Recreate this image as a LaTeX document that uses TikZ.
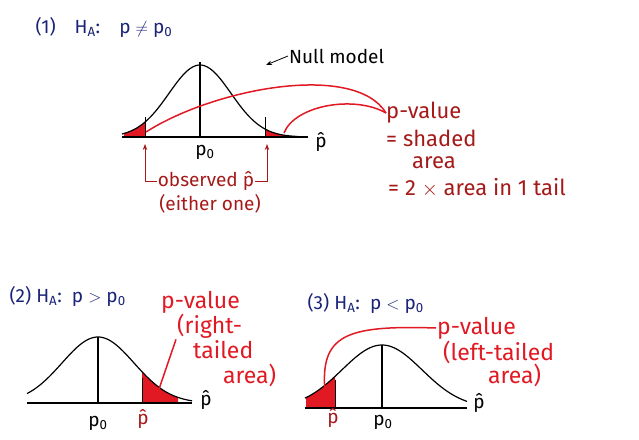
\documentclass[tikz,border=0pt]{standalone}
\usepackage{fontspec}
\setmainfont{Fira Sans}
\usetikzlibrary{arrows.meta,positioning}
\definecolor{inkblue}{RGB}{25,35,120}
\definecolor{inkred}{RGB}{225,25,35}
\definecolor{darkred}{RGB}{165,25,25}
\newcommand\phat{p\char"0302\relax}

\begin{document}
\begin{tikzpicture}[x=1pt,y=-1pt,>={Stealth[length=6pt]},
  curve/.style={line width=1.2pt,black},
  axisline/.style={line width=1.1pt,black},
  cut/.style={line width=0.8pt,black},
  tail/.style={fill=inkred,draw=none},
  ptr/.style={line width=1.5pt,inkred},
  title/.style={inkblue,font=\fontsize{19}{22}\selectfont,anchor=west},
  lab/.style={font=\fontsize{19}{22}\selectfont,inner sep=1pt},
  note/.style={inkred,font=\fontsize{23}{26}\selectfont,anchor=west,inner sep=1pt},
  defn/.style={darkred,font=\fontsize{22}{24}\selectfont,anchor=west,inner sep=0pt}]
\useasboundingbox (0,0) rectangle (639,439);

% (1) two-sided
\node[title] (t1) at (32,27) {(1)\quad H\textsubscript{A}:\quad p $\neq$ p\textsubscript{0}};
\fill[tail] plot[domain=124:145,samples=20] (\x,{137-72*exp(-((\x-200)/31)^2/2)}) -- (145,137) -- (124,137) -- cycle;
\fill[tail] plot[domain=265:295,samples=20] (\x,{137-72*exp(-((\x-200)/31)^2/2)}) -- (295,137) -- (265,137) -- cycle;
\draw[curve] plot[domain=122:298,samples=80] (\x,{137-72*exp(-((\x-200)/31)^2/2)});
\draw[axisline] (122,137) -- (308,137);
\draw[curve] (200,62) -- (200,137);
\draw[cut] (145,117) -- (145,137);
\draw[cut] (265,117) -- (265,137);
\node[lab] (p01) at (205,152) {p\textsubscript{0}};
\node[lab] (ph1) at (321,142) {\phat};
\node[lab,anchor=west] (null) at (288,56) {Null model};
\draw[->,line width=0.8pt] (null.west) -- ++(-22,9);
\coordinate (lt1) at (146,132);
\coordinate (rt1) at (284,133);
\node[defn] (pv1) at (386,113) {p-value};
\node[defn] (eq1) at (386,138) {= shaded};
\node[defn] (ar1) at (412,163) {area};
\node[defn] (tw1) at (388,188) {= 2 $\times$ area in 1 tail};
\draw[ptr] (lt1) .. controls (215,88) and (355,62) .. (pv1.west);
\draw[ptr] (rt1) .. controls (295,105) and (355,95) .. (pv1.west);
\node[lab,darkred] (obs) at (206,181) {observed \phat};
\node[lab,darkred] (eith) at (210,204) {(either one)};
\coordinate (lo) at (145,144);
\coordinate (ro) at (267,144);
\draw[->,line width=1pt,darkred] (obs.west) -| (lo);
\draw[->,line width=1pt,darkred] (obs.east) -| (ro);

% (2) right-tailed
\node[title] (t2) at (6,296) {(2)\ H\textsubscript{A}:\ \ p $>$ p\textsubscript{0}};
\fill[tail] plot[domain=142:178,samples=20] (\x,{403-66*exp(-((\x-98)/36)^2/2)}) -- (178,403) -- (142,403) -- cycle;
\draw[curve] plot[domain=27:192,samples=80] (\x,{403-66*exp(-((\x-98)/36)^2/2)});
\draw[axisline] (27,403) -- (192,403);
\draw[curve] (98,337) -- (98,403);
\draw[cut] (142,378) -- (142,403);
\node[lab] (p02) at (98,423) {p\textsubscript{0}};
\node[lab,darkred] (obs2) at (143,419) {\phat};
\node[lab] (ph2) at (206,400) {\phat};
\node[note] (pv2) at (160,302) {p-value};
\node[note] (rt2) at (176,326) {(right-};
\node[note] (tl2) at (192,350) {tailed};
\node[note] (ar2) at (222,375) {area)};
\coordinate (rtail) at (158,392);
\draw[ptr] (rt2.south west) -- (rtail);

% (3) left-tailed
\node[title] (t3) at (304,303) {(3)\ H\textsubscript{A}:\ \ p $<$ p\textsubscript{0}};
\fill[tail] plot[domain=306:335,samples=20] (\x,{408-63*exp(-((\x-382)/40)^2/2)}) -- (335,408) -- (306,408) -- cycle;
\draw[curve] plot[domain=305:467,samples=80] (\x,{408-63*exp(-((\x-382)/40)^2/2)});
\draw[axisline] (305,408) -- (467,408);
\draw[curve] (382,345) -- (382,408);
\draw[cut] (335,380) -- (335,408);
\node[lab,darkred] (obs3) at (333,418) {\phat};
\node[lab] (p03) at (383,422) {p\textsubscript{0}};
\node[lab] (ph3) at (479,403) {\phat};
\node[note] (pv3) at (436,328) {p-value};
\node[note] (lt3) at (442,352) {(left-tailed};
\node[note] (ar3) at (487,375) {area)};
\coordinate (ltail) at (325,392);
\draw[ptr] (ltail) .. controls (320,335) and (345,325) .. (pv3.west);
\end{tikzpicture}
\end{document}
